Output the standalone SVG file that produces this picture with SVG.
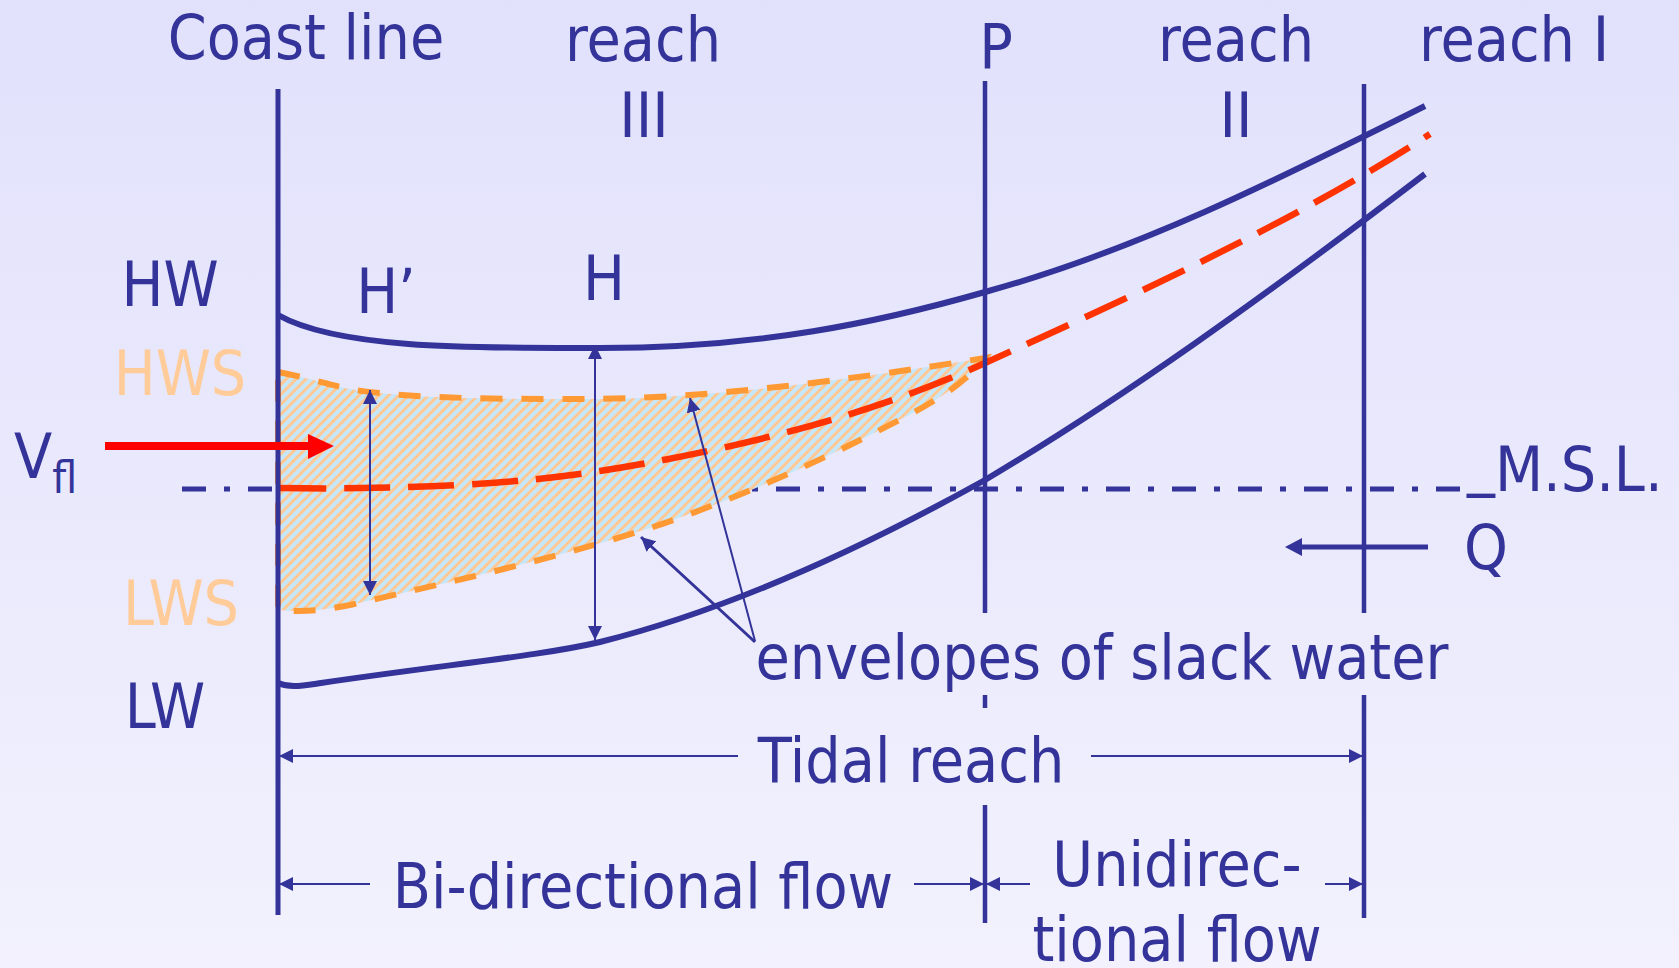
<svg xmlns="http://www.w3.org/2000/svg" width="1679" height="968" viewBox="0 0 1679 968">
<defs>
<linearGradient id="bg" x1="0" y1="0" x2="0" y2="1">
<stop offset="0" stop-color="#E1E1FC"/>
<stop offset="1" stop-color="#F2F1FD"/>
</linearGradient>
<pattern id="hatch" width="7" height="7" patternUnits="userSpaceOnUse" patternTransform="rotate(45)">
<rect width="7" height="7" fill="#C6E7FA"/>
<rect width="3" height="7" fill="#FFC894"/>
</pattern>
<marker id="ah" viewBox="0 0 14 14" refX="14" refY="7" markerWidth="14" markerHeight="14" markerUnits="userSpaceOnUse" orient="auto-start-reverse">
<path d="M0,0 L14,7 L0,14 z" fill="#333399"/>
</marker>
<style>
text{font-family:'DejaVu Sans Condensed','DejaVu Sans',sans-serif;font-stretch:condensed;fill:#333399;font-size:62px}
.c{text-anchor:middle}
.peach{fill:#FFCC99}
.nv{stroke:#333399;fill:none}
.thin{stroke:#333399;stroke-width:2;fill:none}
</style>
</defs>
<rect width="1679" height="968" fill="url(#bg)"/>

<g id="msl-line">
<line x1="182" y1="489" x2="1460" y2="489" stroke="#333399" stroke-width="5" stroke-dasharray="24 18 6 18"/>
</g>

<g id="slack-envelopes">
<path d="M278,372 C320,380 340,390 380,393 C430,398 480,399 583,399 C680,399 800,388 985,358 C960,390 920,410 860,440 C800,470 720,505 650,528 C550,560 450,582 350,605 C320,611 300,612 278,610 Z" fill="url(#hatch)" stroke="#FF9933" stroke-width="6" stroke-dasharray="22 19"/>
</g>

<g id="mean-line">
<path d="M280,488 C400,490 520,484 600,471 C720,452 860,420 985,363 C1115,304 1290,225 1430,134" fill="none" stroke="#FF3300" stroke-width="6.5" stroke-dasharray="46 18"/>
</g>

<g id="hw-curve">
<path class="nv" stroke-width="6" d="M278,315 C340,350 480,348 600,348 C760,348 880,322 985,292 C1135,251 1275,181 1425,106"/>
</g>

<g id="lw-curve">
<path class="nv" stroke-width="6" d="M278,683 C290,688 300,686 321,683 C450,664 540,656 600,642 C720,612 850,555 985,480 C1120,400 1260,300 1425,174"/>
</g>

<g id="coast-line">
<line class="nv" stroke-width="5" x1="278" y1="89" x2="278" y2="915"/>
<text class="c" x="306" y="59">Coast line</text>
</g>

<g id="p-line">
<line class="nv" stroke-width="4.5" x1="985" y1="81" x2="985" y2="613"/>
<line class="nv" stroke-width="4.5" x1="985" y1="695" x2="985" y2="708"/>
<line class="nv" stroke-width="4.5" x1="985" y1="805" x2="985" y2="923"/>
<text class="c" x="996" y="68">P</text>
</g>

<g id="reach1-line">
<line class="nv" stroke-width="4.5" x1="1364" y1="84" x2="1364" y2="613"/>
<line class="nv" stroke-width="4.5" x1="1364" y1="695" x2="1364" y2="918"/>
</g>

<g id="labels">
<text class="c" x="643" y="61">reach</text>
<text class="c" x="644" y="137">III</text>
<text class="c" x="1236" y="61">reach</text>
<text class="c" x="1236" y="137">II</text>
<text class="c" x="1514" y="61">reach I</text>
<text class="c" x="170" y="306">HW</text>
<text class="c" x="386" y="313">H’</text>
<text class="c" x="604" y="300">H</text>
<text class="c peach" x="180" y="395">HWS</text>
<text class="c peach" x="181" y="625">LWS</text>
<text class="c" x="165" y="728">LW</text>
<text x="14" y="478" font-size="68">V<tspan font-size="44" dy="15">fl</tspan></text>
<text x="1467" y="491" font-size="64"><tspan dy="-8">_</tspan><tspan dy="8">M.S.L.</tspan></text>
<text class="c" x="1486" y="569">Q</text>
<text class="c" x="1102" y="679">envelopes of slack water</text>
<text class="c" x="911" y="782">Tidal reach</text>
<text class="c" x="643" y="908">Bi-directional flow</text>
<text class="c" x="1177" y="886">Unidirec-</text>
<text class="c" x="1177" y="961">tional flow</text>
</g>

<g id="connectors">
<line x1="105" y1="446" x2="310" y2="446" stroke="#FF0000" stroke-width="8"/>
<polygon points="308,434 334,446 308,459" fill="#FF0000"/>
<line x1="1428" y1="547" x2="1300" y2="547" stroke="#333399" stroke-width="5"/>
<polygon points="1285,547 1302,538 1302,556" fill="#333399"/>
<line class="thin" x1="370" y1="390" x2="370" y2="595" marker-start="url(#ah)" marker-end="url(#ah)"/>
<line class="thin" x1="595" y1="345" x2="595" y2="640" marker-start="url(#ah)" marker-end="url(#ah)"/>
<line class="thin" x1="755" y1="641" x2="690" y2="398" marker-end="url(#ah)"/>
<line class="nv" stroke-width="3" x1="755" y1="642" x2="641" y2="537" marker-end="url(#ah)"/>
<line class="thin" x1="738" y1="756" x2="279" y2="756" marker-end="url(#ah)"/>
<line class="thin" x1="1091" y1="756" x2="1363" y2="756" marker-end="url(#ah)"/>
<line class="thin" x1="370" y1="884" x2="279" y2="884" marker-end="url(#ah)"/>
<line class="thin" x1="914" y1="884" x2="984" y2="884" marker-end="url(#ah)"/>
<line class="thin" x1="1030" y1="884" x2="986" y2="884" marker-end="url(#ah)"/>
<line class="thin" x1="1325" y1="884" x2="1363" y2="884" marker-end="url(#ah)"/>
</g>
</svg>
